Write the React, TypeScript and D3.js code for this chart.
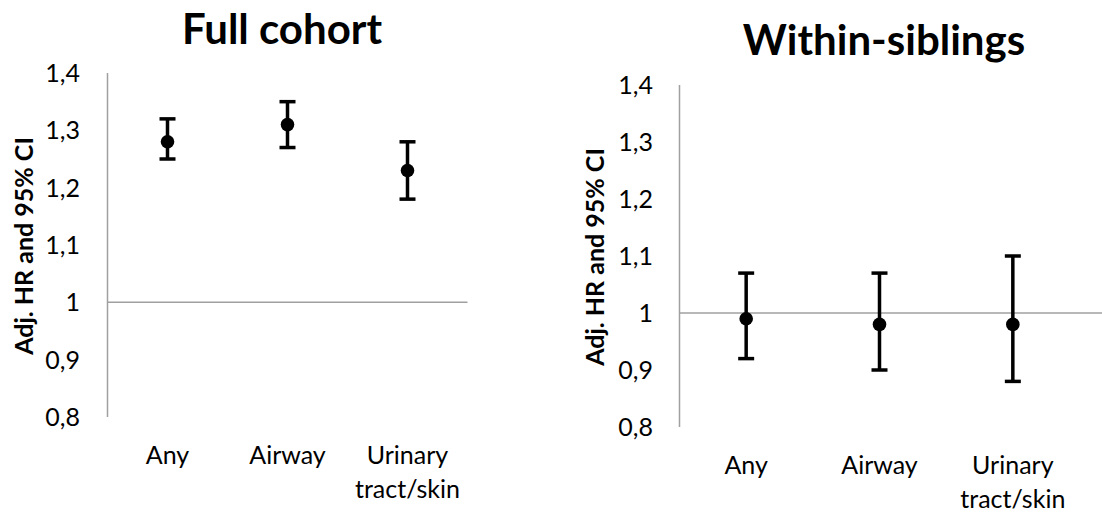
import React from "react";
import * as d3 from "d3";

const categories = ["Any", "Airway", "Urinary\ntract/skin"];
const yTicks = [0.8, 0.9, 1.0, 1.1, 1.2, 1.3, 1.4];

const fullEst = [1.28, 1.31, 1.23];
const fullLow = [1.25, 1.27, 1.18];
const fullHigh = [1.32, 1.35, 1.28];

const sibEst = [0.99, 0.98, 0.98];
const sibLow = [0.92, 0.90, 0.88];
const sibHigh = [1.07, 1.07, 1.10];

const FONT = "Lato, 'Open Sans', sans-serif";

type PanelProps = {
  title: string;
  titleX: number;
  titleY: number;
  axisX: number;
  axisRight: number;
  lineRight: number;
  yTop: number;
  yBottom: number;
  est: number[];
  low: number[];
  high: number[];
  labelX: number;
  labelY: number;
  tickRight: number;
  catY: number;
};

function fmt(v: number) {
  const s = Math.abs(v - 1) < 1e-9 ? "1" : d3.format(".1f")(v);
  return s.replace(".", ",");
}

function Panel(p: PanelProps) {
  const y = d3.scaleLinear().domain([0.8, 1.4]).range([p.yBottom, p.yTop]);
  const x = d3.scaleBand<string>().domain(categories).range([p.axisX, p.axisRight]);
  const cx = (c: string) => (x(c) as number) + x.bandwidth() / 2;
  const capW = 8;
  return (
    <g>
      <text
        x={p.titleX}
        y={p.titleY}
        textAnchor="middle"
        fontFamily={FONT}
        fontWeight="bold"
        fontSize={42}
        fill="#000"
      >
        {p.title}
      </text>
      <line x1={p.axisX} x2={p.axisX} y1={y(1.4)} y2={y(0.8)} stroke="#a0a0a0" strokeWidth={1.5} />
      <line x1={p.axisX} x2={p.lineRight} y1={y(1.0)} y2={y(1.0)} stroke="#a0a0a0" strokeWidth={1.5} />
      {yTicks.map((t) => (
        <text
          key={t}
          x={p.tickRight}
          y={y(t)}
          dy="0.36em"
          textAnchor="end"
          fontFamily={FONT}
          fontSize={25}
          fill="#000"
        >
          {fmt(t)}
        </text>
      ))}
      <text
        transform={`translate(${p.labelX},${p.labelY}) rotate(-90)`}
        textAnchor="middle"
        dy="0.36em"
        fontFamily={FONT}
        fontWeight="bold"
        fontSize={25}
        fill="#000"
      >
        Adj. HR and 95% CI
      </text>
      {categories.map((c) => (
        <text
          key={c}
          x={cx(c)}
          y={p.catY}
          textAnchor="middle"
          fontFamily={FONT}
          fontSize={25}
          fill="#000"
        >
          {c.split("\n").map((line, i) => (
            <tspan key={i} x={cx(c)} dy={i === 0 ? 0 : 34}>
              {line}
            </tspan>
          ))}
        </text>
      ))}
      {categories.map((c, i) => (
        <g key={c}>
          <line x1={cx(c)} x2={cx(c)} y1={y(p.low[i])} y2={y(p.high[i])} stroke="#000" strokeWidth={3.5} />
          <line x1={cx(c) - capW} x2={cx(c) + capW} y1={y(p.low[i])} y2={y(p.low[i])} stroke="#000" strokeWidth={3.5} />
          <line x1={cx(c) - capW} x2={cx(c) + capW} y1={y(p.high[i])} y2={y(p.high[i])} stroke="#000" strokeWidth={3.5} />
          <circle cx={cx(c)} cy={y(p.est[i])} r={6.8} fill="#000" />
        </g>
      ))}
    </g>
  );
}

export default function App() {
  return (
    <svg
      width={1102}
      height={513}
      style={{ position: "absolute", left: 0, top: 0, background: "#fff" }}
    >
      <rect x={0} y={0} width={1102} height={513} fill="#fff" />
      <Panel
        title="Full cohort"
        titleX={282}
        titleY={44}
        axisX={107.5}
        axisRight={467.5}
        lineRight={467.5}
        yTop={73}
        yBottom={417}
        est={fullEst}
        low={fullLow}
        high={fullHigh}
        labelX={24}
        labelY={246}
        tickRight={80}
        catY={464}
      />
      <Panel
        title="Within-siblings"
        titleX={884}
        titleY={55}
        axisX={679.5}
        axisRight={1079.5}
        lineRight={1102}
        yTop={85}
        yBottom={427}
        est={sibEst}
        low={sibLow}
        high={sibHigh}
        labelX={595}
        labelY={257}
        tickRight={653}
        catY={474}
      />
    </svg>
  );
}
